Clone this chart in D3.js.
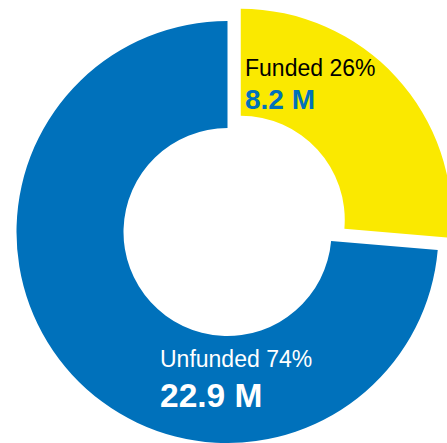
<!DOCTYPE html>
<html>
<head>
<meta charset="utf-8">
<script src="https://cdn.jsdelivr.net/npm/d3@7"></script>
<style>
  body { margin: 0; background: #fff; }
  svg { display: block; font-family: "Liberation Sans", Arial, sans-serif; }
</style>
</head>
<body>
<div class="chart"></div>
<script>
// data
var categories = ["Funded", "Unfunded"];
var amounts = [8.2, 22.9];          // millions
var percents = [26, 74];

var width = 447, height = 443;
var cx = 227.5, cy = 232,
    outerR = 211, innerR = 104,
    explode = 18;

var colors = {Funded: "#fae900", Unfunded: "#0071bb"};

var svg = d3.select(".chart").append("svg")
    .attr("width", width)
    .attr("height", height);

var g = svg.append("g")
    .attr("transform", "translate(" + cx + "," + cy + ")");

var pie = d3.pie().sort(null).value(function(d) { return d.value; });
var arc = d3.arc().innerRadius(innerR).outerRadius(outerR);

var data = categories.map(function(c, i) {
  return {name: c, value: amounts[i], pct: percents[i]};
});
var arcs = pie(data);

// pull the funded slice out along its mid angle
function shift(d) {
  if (d.data.name !== "Funded") return [0, 0];
  var a = (d.startAngle + d.endAngle) / 2;
  return [Math.sin(a) * explode, -Math.cos(a) * explode];
}

g.selectAll("path.slice")
    .data(arcs)
  .enter().append("path")
    .attr("class", "slice")
    .attr("d", arc)
    .attr("transform", function(d) {
      var s = shift(d);
      return "translate(" + s[0] + "," + s[1] + ")";
    })
    .style("fill", function(d) { return colors[d.data.name]; });

// labels
var labelPos = {Funded: [17.5, -156], Unfunded: [-67.5, 135]};
var labelStyle = {
  Funded: {top: "#000", bottom: "#0071bb", size2: 28, gap: 33},
  Unfunded: {top: "#fff", bottom: "#fff", size2: 33.5, gap: 40}
};

arcs.forEach(function(d) {
  var name = d.data.name, p = labelPos[name], st = labelStyle[name];
  var t = g.append("g").attr("transform", "translate(" + p[0] + "," + p[1] + ")");
  t.append("text")
      .attr("font-size", 23)
      .style("fill", st.top)
      .text(name + " " + d.data.pct + "%");
  t.append("text")
      .attr("y", st.gap)
      .attr("font-size", st.size2)
      .attr("font-weight", "bold")
      .style("fill", st.bottom)
      .text(d3.format(".1f")(d.data.value) + " M");
});
</script>
</body>
</html>
